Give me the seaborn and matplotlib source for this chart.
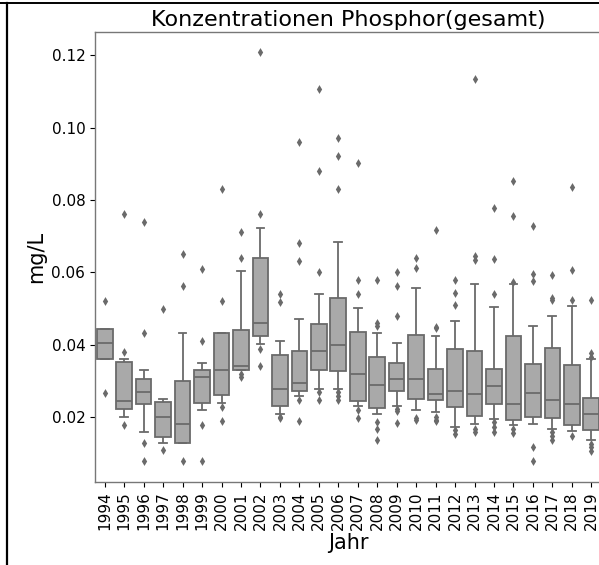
import numpy as np
import pandas as pd
import matplotlib
matplotlib.use("Agg")
import matplotlib.pyplot as plt
from matplotlib.lines import Line2D
import seaborn as sns

# box statistics (mg/L)
years = list(range(1994, 2020))
whisker_lo = [0.0360, 0.0200, 0.0159, 0.0128, 0.0129, 0.0219, 0.0240, 0.0329, 0.0403, 0.0209,
              0.0258, 0.0278, 0.0278, 0.0231, 0.0209, 0.0231, 0.0219, 0.0214, 0.0172, 0.0182,
              0.0196, 0.0177, 0.0182, 0.0168, 0.0161, 0.0137]
q1 = [0.0360, 0.0221, 0.0235, 0.0145, 0.0129, 0.0240, 0.0260, 0.0329, 0.0423, 0.0231,
      0.0272, 0.0331, 0.0327, 0.0244, 0.0225, 0.0272, 0.0251, 0.0246, 0.0228, 0.0203,
      0.0235, 0.0191, 0.0200, 0.0197, 0.0179, 0.0163]
median = [0.0406, 0.0244, 0.0269, 0.0200, 0.0180, 0.0311, 0.0329, 0.0341, 0.0461, 0.0278,
          0.0295, 0.0384, 0.0398, 0.0320, 0.0290, 0.0306, 0.0306, 0.0265, 0.0271, 0.0263,
          0.0286, 0.0235, 0.0267, 0.0246, 0.0235, 0.0208]
q3 = [0.0444, 0.0352, 0.0306, 0.0242, 0.0299, 0.0329, 0.0431, 0.0440, 0.0641, 0.0371,
      0.0384, 0.0458, 0.0529, 0.0435, 0.0366, 0.0350, 0.0428, 0.0332, 0.0389, 0.0384,
      0.0332, 0.0424, 0.0346, 0.0392, 0.0343, 0.0253]
whisker_hi = [0.0444, 0.0360, 0.0329, 0.0249, 0.0431, 0.0350, 0.0431, 0.0603, 0.0723, 0.0410,
              0.0470, 0.0541, 0.0684, 0.0501, 0.0431, 0.0406, 0.0557, 0.0423, 0.0466, 0.0569,
              0.0504, 0.0567, 0.0452, 0.0479, 0.0507, 0.0360]
outliers = [
    [0.0520, 0.0267],
    [0.0760, 0.0380, 0.0177],
    [0.0739, 0.0431, 0.0128, 0.0080],
    [0.0500, 0.0110],
    [0.0652, 0.0561, 0.0080],
    [0.0610, 0.0409, 0.0177, 0.0080],
    [0.0829, 0.0520, 0.0228, 0.0188],
    [0.0712, 0.0640, 0.0320, 0.0311],
    [0.1209, 0.0760, 0.0389, 0.0340],
    [0.0541, 0.0518, 0.0200, 0.0198],
    [0.0960, 0.0681, 0.0631, 0.0248, 0.0188],
    [0.1106, 0.0879, 0.0601, 0.0269, 0.0248],
    [0.0970, 0.0921, 0.0829, 0.0269, 0.0258, 0.0248],
    [0.0901, 0.0580, 0.0539, 0.0219, 0.0198],
    [0.0580, 0.0461, 0.0452, 0.0186, 0.0166, 0.0137],
    [0.0601, 0.0561, 0.0478, 0.0223, 0.0217, 0.0184],
    [0.0640, 0.0613, 0.0198, 0.0191],
    [0.0716, 0.0449, 0.0446, 0.0200, 0.0193, 0.0188],
    [0.0578, 0.0543, 0.0509, 0.0163, 0.0154],
    [0.1133, 0.0645, 0.0635, 0.0168, 0.0159],
    [0.0778, 0.0638, 0.0539, 0.0186, 0.0172, 0.0159],
    [0.0852, 0.0755, 0.0572, 0.0168, 0.0156],
    [0.0728, 0.0595, 0.0576, 0.0117, 0.0078],
    [0.0594, 0.0529, 0.0523, 0.0159, 0.0147, 0.0136],
    [0.0836, 0.0606, 0.0523, 0.0147],
    [0.0523, 0.0377, 0.0366, 0.0126, 0.0117, 0.0106],
]

labels = [str(y) for y in years]

# five values per year give exactly these quartiles / whisker ends
box_rows = []
for i, lab in enumerate(labels):
    for v in (whisker_lo[i], q1[i], median[i], q3[i], whisker_hi[i]):
        box_rows.append((lab, v))
df_box = pd.DataFrame(box_rows, columns=["Jahr", "mg/L"])

out_rows = [(lab, v) for lab, vals in zip(labels, outliers) for v in vals]
df_out = pd.DataFrame(out_rows, columns=["Jahr", "mg/L"])

line_col = "#6a6a6a"

fig = plt.figure(figsize=(5.99, 5.65), dpi=100)
ax = fig.add_axes([95 / 599, 1 - 481.7 / 565, 506 / 599, 450.2 / 565])

sns.boxplot(data=df_box, x="Jahr", y="mg/L", order=labels, color="darkgrey",
            saturation=1, linecolor=line_col, linewidth=1.3, whis=(0, 100),
            showfliers=False, width=0.8, ax=ax)
sns.stripplot(data=df_out, x="Jahr", y="mg/L", order=labels, jitter=False,
              marker="d", size=4.5, color=line_col, ax=ax)

ax.set_title("Konzentrationen Phosphor(gesamt)", fontsize=16, pad=4)
ax.set_xlabel("Jahr", fontsize=15, labelpad=2)
ax.set_ylabel("mg/L", fontsize=15)
ax.tick_params(axis="x", labelrotation=90, labelsize=11)
ax.tick_params(axis="y", labelsize=11)
ax.set_yticks([0.02, 0.04, 0.06, 0.08, 0.10, 0.12])
for sp in ax.spines.values():
    sp.set_color("#777777")
    sp.set_linewidth(1.0)

# frame lines of the surrounding cell
fig.add_artist(Line2D([7 / 599, 7 / 599], [0, 1 - 3 / 565], color="black", lw=1.6))
fig.add_artist(Line2D([0, 1], [1 - 3 / 565, 1 - 3 / 565], color="black", lw=1.4))

fig.savefig("out.png", dpi=100)
